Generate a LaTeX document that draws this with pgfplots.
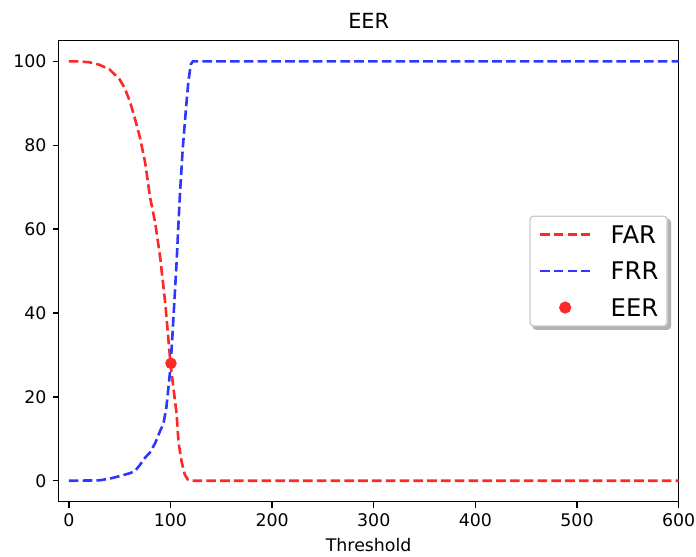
\documentclass[border=0pt]{standalone}
\usepackage{fontspec}
\setmainfont{DejaVu Sans}
\usepackage{pgfplots}
\pgfplotsset{compat=1.18}
\pgfdeclarelayer{background}
\pgfsetlayers{background,main}
\definecolor{farred}{RGB}{255,40,40}
\definecolor{frrblue}{RGB}{45,55,255}
\definecolor{framegray}{RGB}{204,204,204}
\pgfplotsset{
  linelegend/.style={legend image code/.code={\draw[##1] (0pt,0pt) -- (29pt,0pt);}},
  dotlegend/.style={legend image code/.code={\fill[farred] (14.5pt,0pt) circle (3.1pt);}},
}

\begin{document}
\begin{tikzpicture}
  \path[use as bounding box] (-33.8pt,-31.3pt) rectangle (367.1pt,289.0pt);
  \begin{axis}[
    at={(0,0)}, anchor=south west,
    scale only axis,
    width=357.1pt, height=265.7pt,
    xmin=-10, xmax=600,
    ymin=-5, ymax=105,
    xtick={0,100,...,600},
    ytick={0,20,...,100},
    tick align=outside,
    major tick length=3.5pt,
    xtick pos=bottom, ytick pos=left,
    axis line style={line width=0.8pt},
    every tick/.style={black, line width=0.8pt},
    /pgf/number format/assume math mode=true,
    ticklabel style={font=\fontsize{10}{12}\selectfont},
    title={EER},
    title style={font=\fontsize{12}{14}\selectfont, at={(axis description cs:0.5,1)}, anchor=base, yshift=1pt, inner sep=0pt},
    xlabel={Threshold},
    xlabel style={font=\fontsize{10}{12}\selectfont, at={(axis description cs:0.5,0)}, anchor=base, yshift=-28.5pt, inner sep=0pt},
    legend cell align=left,
    legend style={name=leg, at={(1,0.5)}, anchor=east, xshift=-6.2pt,
      font=\fontsize{14}{17}\selectfont,
      draw=framegray, line width=0.8pt, fill=white, rounded corners=2pt,
      inner xsep=5pt, inner ysep=5.5pt,
      row sep=10.8pt, column sep=11pt,
      nodes={inner sep=0pt, text height=10.2pt, text depth=0pt}},
  ]
    \addplot[farred, line width=1.5pt, dash pattern=on 5.55pt off 2.4pt, linelegend]
      coordinates {
        (0,100) (10,100) (20,99.8) (30,99.2) (40,98.1) (50,95.7) (55,93.6)
        (60,90.5) (65,86.4) (70,81.8) (75,76) (80,67.5) (85,61.5) (90,53)
        (95,42) (100,28) (103,22) (106,16) (108,9) (111,4.5) (114,1.5)
        (117,0.3) (120,0) (600,0)
      };
    \addlegendentry{FAR}
    \addplot[frrblue, line width=1.5pt, dash pattern=on 5.55pt off 2.4pt, linelegend]
      coordinates {
        (0,0) (30,0.1) (40,0.5) (50,1.1) (60,1.8) (65,2.3) (70,3.8) (75,5.5)
        (80,6.8) (85,9) (90,12) (93,13.5) (96,17.5) (100,27) (102,35)
        (106,52) (109,67) (112,79) (115,88) (117.5,95) (120,99.3) (122,100)
        (600,100)
      };
    \addlegendentry{FRR}
    \addplot[only marks, mark=*, mark size=3.1pt, mark options={draw=farred, fill=farred}, dotlegend]
      coordinates {(100.5,28)};
    \addlegendentry{EER}
  \end{axis}
  % legend shadow
  \begin{pgfonlayer}{background}
    \fill[black!30, rounded corners=2pt]
      ([xshift=1.8pt,yshift=-1.8pt]leg.south west) rectangle ([xshift=1.8pt,yshift=-1.8pt]leg.north east);
  \end{pgfonlayer}
\end{tikzpicture}
\end{document}
